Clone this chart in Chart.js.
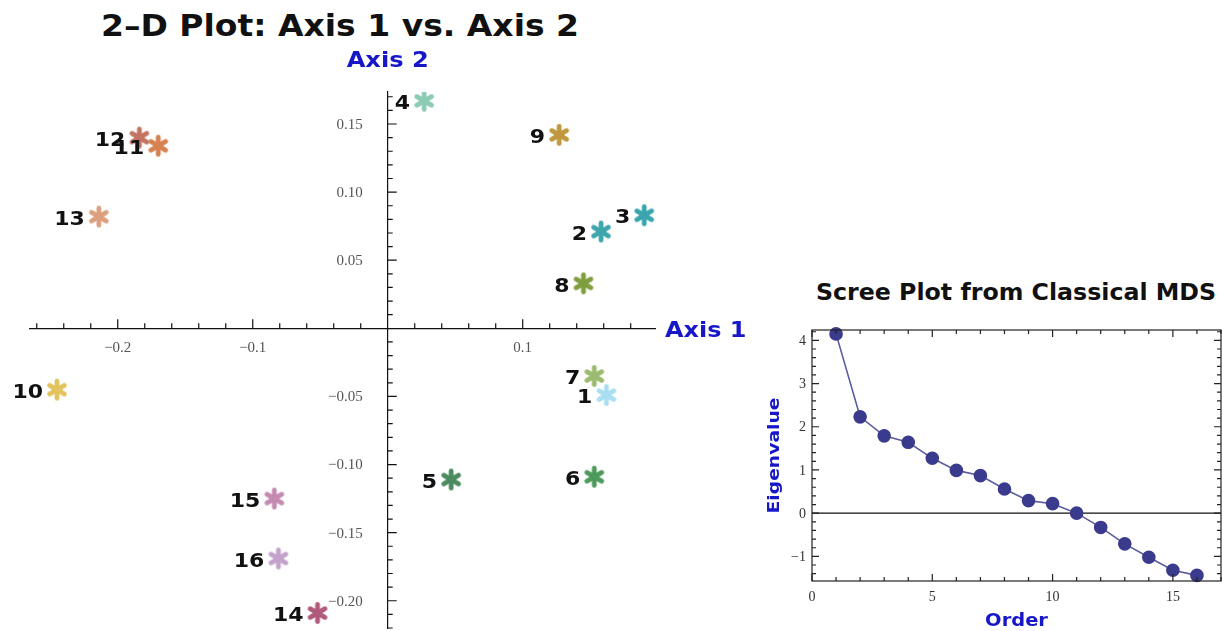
<!DOCTYPE html>
<html>
<head>
<meta charset="utf-8">
<script src="https://cdn.jsdelivr.net/npm/chart.js@4.4.1/dist/chart.umd.min.js"></script>
<style>
  html, body { margin: 0; padding: 0; background: #fff; }
  body { width: 1222px; height: 631px; overflow: hidden; position: relative; }
  #mds { position: absolute; left: 0; top: 0; }
  #scree { position: absolute; left: 760px; top: 270px; }
  .title {
    position: absolute; white-space: nowrap; transform-origin: 50% 50%;
    font-family: 'DejaVu Sans', sans-serif; font-weight: bold; color: #111;
  }
</style>
</head>
<body>
<div class="title" style="left:340px; top:8px; font-size:30px; transform: translateX(-50%) scaleX(1.1);">2–D Plot: Axis 1 vs. Axis 2</div>
<div class="title" style="left:1016px; top:279px; font-size:23px; transform: translateX(-50%) scaleX(1.03);">Scree Plot from Classical MDS</div>
<canvas id="mds" width="760" height="631"></canvas>
<canvas id="scree" width="462" height="361"></canvas>
<script>
// ---- MDS configuration (first two coordinates) ----
const pointIds = ['1','2','3','4','5','6','7','8','9','10','11','12','13','14','15','16'];
const axis1 = [0.162, 0.158, 0.190, 0.027, 0.047, 0.153, 0.153, 0.145, 0.127, -0.245, -0.170, -0.184, -0.214, -0.052, -0.084, -0.081];
const axis2 = [-0.049, 0.071, 0.083, 0.167, -0.111, -0.109, -0.035, 0.033, 0.142, -0.045, 0.134, 0.140, 0.082, -0.209, -0.125, -0.169];
const pointColors = ['#a9dff0','#3fa6ad','#3aa5ae','#8ccbb4','#4b8b5f','#4d9a5a','#9cbb72','#7f9e3e',
                     '#c0983e','#e3c35e','#d68250','#c47464','#dca07e','#b15a7c','#c48ab0','#c4a2cc'];

// ---- Scree plot ----
const eigenOrder = [1,2,3,4,5,6,7,8,9,10,11,12,13,14,15,16];
const eigenvalues = [4.15, 2.23, 1.79, 1.64, 1.27, 0.99, 0.87, 0.56, 0.29, 0.22, 0.0, -0.33, -0.71, -1.02, -1.32, -1.44];

const AXIS_BLUE = '#1717c8';
const SERIF = "'Liberation Serif', 'Times New Roman', serif";
const SANS_BOLD = "'DejaVu Sans', sans-serif";
Chart.defaults.font.family = SERIF;
Chart.defaults.color = '#444';

const isMultiple = (v, step) => Math.abs(v / step - Math.round(v / step)) < 1e-6;
const minus = s => s.replace('-', '\u2212');

// Keep positioned scales from reserving room for overhanging labels
function noOverhang(s) {
  s.paddingLeft = 0; s.paddingRight = 0; s.paddingTop = 0; s.paddingBottom = 0;
}

// Text drawn slightly widened, like the heavy sans used for the labels
function wideText(ctx, text, x, y, sx) {
  ctx.save();
  ctx.translate(x, y);
  ctx.scale(sx, 1);
  ctx.fillText(text, 0, 0);
  ctx.restore();
}

// Six-armed asterisk marker, one per colour
function asterisk(color) {
  const c = document.createElement('canvas');
  c.width = 24; c.height = 24;
  const g = c.getContext('2d');
  g.strokeStyle = color; g.lineWidth = 4.8; g.lineCap = 'round';
  for (let k = 0; k < 3; k++) {
    const a = Math.PI / 2 + k * Math.PI / 3;
    g.beginPath();
    g.moveTo(12 + 8.6 * Math.cos(a), 12 + 8.6 * Math.sin(a));
    g.lineTo(12 - 8.6 * Math.cos(a), 12 - 8.6 * Math.sin(a));
    g.stroke();
  }
  return c;
}
const markers = pointColors.map(asterisk);

// Crossing-axes decorations: tick marks, y tick labels, axis names, point numbers
const mdsDecor = {
  id: 'mdsDecor',
  afterDraw(chart) {
    const { ctx, scales: { x, y } } = chart;
    const ox = x.getPixelForValue(0), oy = y.getPixelForValue(0);
    ctx.save();
    ctx.strokeStyle = '#111'; ctx.lineWidth = 1.2;
    ctx.beginPath();
    x.ticks.forEach(t => {
      if (Math.abs(t.value) < 1e-9) return;
      const px = x.getPixelForValue(t.value);
      const len = isMultiple(t.value, 0.1) ? 9 : 5;
      ctx.moveTo(px, oy); ctx.lineTo(px, oy - len);
    });
    y.ticks.forEach(t => {
      if (Math.abs(t.value) < 1e-9) return;
      const py = y.getPixelForValue(t.value);
      const len = isMultiple(t.value, 0.05) ? 9 : 5;
      ctx.moveTo(ox, py); ctx.lineTo(ox + len, py);
    });
    ctx.stroke();

    ctx.fillStyle = '#555';
    ctx.font = '15px ' + SERIF;
    ctx.textAlign = 'right'; ctx.textBaseline = 'middle';
    y.ticks.forEach(t => {
      if (Math.abs(t.value) < 1e-9 || !isMultiple(t.value, 0.05)) return;
      ctx.fillText(minus(t.value.toFixed(2)), ox - 25, y.getPixelForValue(t.value) + 1);
    });

    ctx.fillStyle = AXIS_BLUE;
    ctx.font = 'bold 21px ' + SANS_BOLD;
    ctx.textAlign = 'center';
    wideText(ctx, 'Axis 2', ox, 62, 1.15);
    ctx.textAlign = 'left';
    wideText(ctx, 'Axis 1', x.right + 10, oy + 3, 1.14);

    const meta = chart.getDatasetMeta(0);
    ctx.fillStyle = '#111';
    ctx.font = 'bold 20px ' + SANS_BOLD;
    ctx.textAlign = 'right';
    meta.data.forEach((pt, i) => {
      wideText(ctx, pointIds[i], pt.x - 14, pt.y + 3, 1.1);
    });
    ctx.restore();
  }
};

new Chart(document.getElementById('mds'), {
  type: 'scatter',
  data: {
    datasets: [{
      data: axis1.map((v, i) => ({ x: v, y: axis2[i] })),
      pointStyle: ctx => markers[ctx.dataIndex],
      pointRadius: 12,
      pointHoverRadius: 12
    }]
  },
  options: {
    responsive: false,
    animation: false,
    events: [],
    layout: { autoPadding: false, padding: { left: 30, right: 105, top: 92, bottom: 3 } },
    plugins: { legend: { display: false }, tooltip: { enabled: false } },
    scales: {
      x: {
        type: 'linear', position: { y: 0 }, min: -0.265, max: 0.198,
        grid: { display: false, drawTicks: false },
        border: { display: true, color: '#111', width: 1.2 },
        afterFit: s => { s.height = 0; noOverhang(s); },
        ticks: {
          stepSize: 0.02, autoSkip: false, includeBounds: false, maxRotation: 0, padding: 11,
          font: { size: 15 }, color: '#555',
          callback: v => (isMultiple(v, 0.1) && Math.abs(v) > 1e-9) ? minus(v.toFixed(1)) : ''
        }
      },
      y: {
        type: 'linear', position: { x: 0 }, min: -0.22, max: 0.1735,
        grid: { display: false, drawTicks: false },
        border: { display: true, color: '#111', width: 1.2 },
        afterFit: s => { s.width = 0; noOverhang(s); },
        ticks: { display: false, stepSize: 0.01, autoSkip: false, includeBounds: false }
      }
    }
  },
  plugins: [mdsDecor]
});

// Framed scree plot: box, inward ticks on all sides, zero line, y labels, axis names
const screeDecor = {
  id: 'screeDecor',
  beforeDatasetsDraw(chart) {
    const { ctx, chartArea: a, scales: { y } } = chart;
    const zy = y.getPixelForValue(0);
    ctx.save();
    ctx.strokeStyle = '#111'; ctx.lineWidth = 1.3;
    ctx.beginPath(); ctx.moveTo(a.left, zy); ctx.lineTo(a.right, zy); ctx.stroke();
    ctx.restore();
  },
  afterDraw(chart) {
    const { ctx, chartArea: a, scales: { x, y } } = chart;
    ctx.save();
    ctx.strokeStyle = '#222'; ctx.lineWidth = 1.2;
    ctx.strokeRect(a.left, a.top, a.right - a.left, a.bottom - a.top);
    ctx.beginPath();
    x.ticks.forEach(t => {
      const px = x.getPixelForValue(t.value);
      const len = isMultiple(t.value, 5) ? 7 : 4;
      ctx.moveTo(px, a.top); ctx.lineTo(px, a.top + len);
      ctx.moveTo(px, a.bottom); ctx.lineTo(px, a.bottom - len);
    });
    y.ticks.forEach(t => {
      const py = y.getPixelForValue(t.value);
      const len = isMultiple(t.value, 1) ? 7 : 4;
      ctx.moveTo(a.left, py); ctx.lineTo(a.left + len, py);
      ctx.moveTo(a.right, py); ctx.lineTo(a.right - len, py);
    });
    ctx.stroke();

    ctx.fillStyle = '#333';
    ctx.font = '14px ' + SERIF;
    ctx.textAlign = 'right'; ctx.textBaseline = 'middle';
    y.ticks.forEach(t => {
      if (!isMultiple(t.value, 1)) return;
      ctx.fillText(minus(String(Math.round(t.value))), a.left - 6, y.getPixelForValue(t.value) + 1);
    });

    ctx.fillStyle = AXIS_BLUE;
    ctx.font = 'bold 18px ' + SANS_BOLD;
    ctx.textAlign = 'center';
    wideText(ctx, 'Order', (a.left + a.right) / 2, 351, 1.08);
    ctx.translate(15, (a.top + a.bottom) / 2);
    ctx.rotate(-Math.PI / 2);
    ctx.font = 'bold 16px ' + SANS_BOLD;
    wideText(ctx, 'Eigenvalue', 0, 0, 1.17);
    ctx.restore();
  }
};

new Chart(document.getElementById('scree'), {
  type: 'scatter',
  data: {
    datasets: [{
      data: eigenOrder.map((o, i) => ({ x: o, y: eigenvalues[i] })),
      showLine: true,
      borderColor: '#5c5c9e',
      borderWidth: 1.6,
      backgroundColor: '#3b3b8e',
      pointBorderColor: '#3b3b8e',
      pointRadius: 6,
      pointHoverRadius: 6,
      clip: false
    }]
  },
  options: {
    responsive: false,
    animation: false,
    events: [],
    layout: { autoPadding: false, padding: { left: 12, right: 1, top: 60, bottom: 24 } },
    plugins: { legend: { display: false }, tooltip: { enabled: false } },
    scales: {
      x: {
        type: 'linear', min: 0, max: 17,
        grid: { display: false, drawTicks: false },
        border: { display: false },
        afterFit: s => { s.height = 26; noOverhang(s); },
        ticks: {
          stepSize: 1, autoSkip: false, includeBounds: false, maxRotation: 0, padding: 8,
          font: { size: 14 }, color: '#333',
          callback: v => isMultiple(v, 5) ? String(Math.round(v)) : ''
        }
      },
      y: {
        type: 'linear', min: -1.57, max: 4.24,
        grid: { display: false, drawTicks: false },
        border: { display: false },
        afterFit: s => { s.width = 40; noOverhang(s); },
        ticks: { display: false, stepSize: 0.2, autoSkip: false, includeBounds: false }
      }
    }
  },
  plugins: [screeDecor]
});
</script>
</body>
</html>
